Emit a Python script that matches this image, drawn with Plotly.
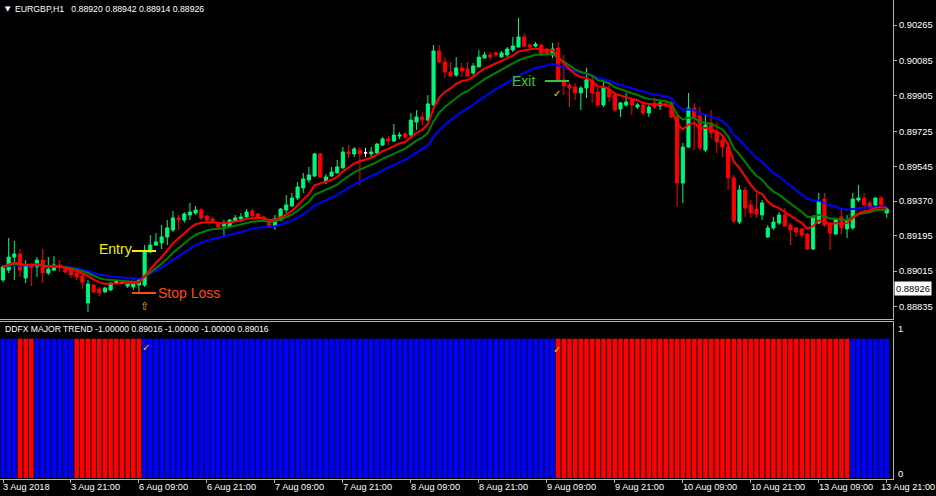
import numpy as np
import pandas as pd
import plotly.graph_objects as go

# ---------------- data (prices in points, 1 point = 0.00001) ----------------
open_pts = [88970, 89020, 89086, 89102, 88980, 89046, 89036, 89071, 89005, 89020,
            89046, 89036, 89020, 89005, 88990, 88853, 88944, 88924, 88909, 88919,
            88959, 88954, 88939, 88934, 88944, 88944, 89112, 89147, 89158, 89188,
            89224, 89285, 89274, 89300, 89310, 89325, 89295, 89280, 89259, 89244,
            89239, 89269, 89280, 89290, 89320, 89305, 89290, 89264, 89244, 89274,
            89325, 89346, 89386, 89437, 89478, 89498, 89610, 89473, 89498, 89513,
            89539, 89620, 89610, 89630, 89615, 89610, 89615, 89655, 89686, 89676,
            89701, 89711, 89706, 89772, 89798, 89782, 89859, 90133, 90077, 90026,
            90011, 90047, 90041, 90021, 90052, 90097, 90113, 90123, 90102, 90113,
            90138, 90153, 90204, 90163, 90158, 90163, 90143, 90113, 90148, 89986,
            89960, 89950, 89920, 89945, 89986, 89925, 89859, 89935, 89909, 89838,
            89859, 89884, 89848, 89859, 89818, 89869, 89854, 89864, 89869, 89798,
            89462, 89645, 89843, 89803, 89630, 89767, 89721, 89681, 89645, 89488,
            89264, 89427, 89351, 89330, 89300, 89188, 89234, 89259, 89300, 89249,
            89234, 89229, 89203, 89127, 89259, 89381, 89259, 89203, 89290, 89229,
            89234, 89376, 89386, 89361, 89351, 89386, 89310]
high_pts = [89046, 89183, 89168, 89127, 89071, 89056, 89086, 89127, 89086, 89091,
            89071, 89041, 89031, 89010, 89000, 88970, 88949, 88934, 88934, 88959,
            88964, 88959, 88954, 88954, 88980, 89147, 89198, 89208, 89249, 89274,
            89320, 89300, 89315, 89361, 89346, 89335, 89300, 89290, 89264, 89274,
            89280, 89300, 89310, 89330, 89330, 89310, 89295, 89274, 89300, 89335,
            89401, 89412, 89467, 89513, 89544, 89615, 89615, 89508, 89544, 89579,
            89645, 89655, 89645, 89645, 89640, 89645, 89666, 89696, 89701, 89762,
            89721, 89721, 89818, 89833, 89823, 89909, 90163, 90163, 90102, 90077,
            90102, 90072, 90077, 90072, 90138, 90128, 90128, 90128, 90133, 90153,
            90204, 90301, 90224, 90174, 90179, 90168, 90148, 90174, 90179, 90113,
            89970, 89970, 89955, 90047, 90011, 89945, 89975, 89975, 89925, 89874,
            89920, 89894, 89869, 89874, 89859, 89894, 89884, 89879, 89879, 89808,
            89666, 89920, 89869, 89848, 89808, 89833, 89772, 89706, 89671, 89503,
            89452, 89442, 89376, 89412, 89376, 89249, 89290, 89315, 89335, 89259,
            89239, 89234, 89208, 89300, 89412, 89412, 89264, 89285, 89330, 89300,
            89412, 89452, 89412, 89371, 89391, 89396, 89340]
low_pts = [88959, 89005, 88970, 88985, 88954, 88939, 88985, 88954, 88995, 89015,
           89010, 89005, 88980, 88970, 88924, 88807, 88904, 88888, 88904, 88914,
           88954, 88949, 88929, 88919, 88904, 88934, 89107, 89142, 89127, 89147,
           89213, 89224, 89259, 89274, 89300, 89274, 89264, 89259, 89234, 89193,
           89234, 89264, 89264, 89285, 89290, 89285, 89269, 89239, 89224, 89269,
           89310, 89340, 89376, 89412, 89462, 89493, 89488, 89457, 89493, 89513,
           89534, 89589, 89594, 89452, 89594, 89594, 89610, 89650, 89655, 89671,
           89686, 89686, 89696, 89732, 89757, 89777, 89854, 90072, 89996, 90001,
           90001, 90001, 90001, 90011, 90052, 90097, 90087, 90102, 90102, 90102,
           90128, 90153, 90153, 90148, 90153, 90108, 90108, 90097, 89981, 89909,
           89848, 89884, 89833, 89894, 89869, 89848, 89848, 89874, 89823, 89798,
           89848, 89808, 89838, 89808, 89798, 89838, 89833, 89843, 89793, 89340,
           89361, 89640, 89630, 89630, 89620, 89691, 89615, 89594, 89427, 89259,
           89254, 89290, 89285, 89285, 89274, 89183, 89224, 89249, 89239, 89147,
           89188, 89183, 89122, 89122, 89254, 89239, 89122, 89198, 89203, 89183,
           89224, 89366, 89340, 89325, 89340, 89340, 89285]
close_pts = [89036, 89086, 89102, 89020, 89046, 89031, 89071, 89005, 89025, 89046,
             89036, 89010, 88995, 88985, 88959, 88949, 88909, 88904, 88929, 88954,
             88959, 88954, 88949, 88949, 88970, 89112, 89147, 89163, 89188, 89234,
             89285, 89274, 89305, 89315, 89325, 89285, 89274, 89269, 89239, 89254,
             89274, 89285, 89290, 89315, 89295, 89290, 89274, 89244, 89280, 89330,
             89351, 89386, 89442, 89483, 89503, 89610, 89493, 89493, 89518, 89544,
             89620, 89610, 89635, 89610, 89615, 89620, 89660, 89686, 89676, 89706,
             89706, 89696, 89782, 89798, 89782, 89864, 90133, 90077, 90026, 90006,
             90047, 90031, 90006, 90057, 90102, 90113, 90102, 90113, 90123, 90143,
             90158, 90204, 90158, 90153, 90168, 90113, 90118, 90143, 89986, 89955,
             89945, 89920, 89945, 89986, 89920, 89859, 89945, 89899, 89833, 89869,
             89874, 89859, 89859, 89818, 89848, 89848, 89869, 89854, 89798, 89462,
             89645, 89843, 89798, 89640, 89757, 89716, 89671, 89645, 89488, 89269,
             89427, 89335, 89310, 89305, 89361, 89234, 89264, 89300, 89244, 89224,
             89213, 89198, 89127, 89290, 89371, 89249, 89208, 89280, 89234, 89274,
             89381, 89386, 89351, 89335, 89386, 89351, 89330]

# DDFX MAJOR TREND: runs of (direction, number of bars); 1 = up (blue), -1 = down (red)
trend_runs = [(1, 3), (-1, 3), (1, 7), (-1, 12), (1, 73), (-1, 52), (1, 7)]
trend_level = 0.9

# moving average periods (red, green, blue)
ma_periods = [8, 13, 21]

# price axis ticks
price_ticks = [0.90265, 0.90085, 0.89905, 0.89725, 0.89545, 0.89370, 0.89195, 0.89015, 0.88835]
# time axis labels (bar index, label)
time_label_bars = [0, 12, 24, 36, 48, 60, 72, 84, 96, 108, 120, 132, 144, 156]
time_labels = ["3 Aug 2018", "3 Aug 21:00", "6 Aug 09:00", "6 Aug 21:00", "7 Aug 09:00",
               "7 Aug 21:00", "8 Aug 09:00", "8 Aug 21:00", "9 Aug 09:00", "9 Aug 21:00",
               "10 Aug 09:00", "10 Aug 21:00", "13 Aug 09:00", "13 Aug 21:00"]
header_text = "EURGBP,H1\u00a0\u00a0 0.88920 0.88942 0.88914 0.88926"
indicator_text = "DDFX MAJOR TREND -1.00000 0.89016 -1.00000 -1.00000 0.89016"
current_price = "0.88926"
current_price_value = 0.88926

# ---------------- build ----------------
W, H = 936, 496
o = np.array(open_pts) / 1e5
h = np.array(high_pts) / 1e5
l = np.array(low_pts) / 1e5
c = np.array(close_pts) / 1e5
idx = np.arange(len(c))

BULL = "#00f57a"
BEAR = "#ff0000"
FRAME = "#b4b4b4"
FONT = "Liberation Sans, Arial, sans-serif"


def px(xp):
    return xp / W


def py(yp):
    return 1 - yp / H


fig = go.Figure()

normal = c != o
doji = c == o
fig.add_trace(go.Candlestick(
    x=idx[normal], open=o[normal], high=h[normal], low=l[normal], close=c[normal],
    increasing=dict(line=dict(color=BULL, width=1), fillcolor=BULL),
    decreasing=dict(line=dict(color=BEAR, width=1), fillcolor=BEAR),
    whiskerwidth=0, xaxis="x2", yaxis="y", showlegend=False, hoverinfo="skip"))
fig.add_trace(go.Candlestick(
    x=idx[doji], open=o[doji], high=h[doji], low=l[doji], close=c[doji],
    increasing=dict(line=dict(color="#ffffff", width=1), fillcolor="#ffffff"),
    decreasing=dict(line=dict(color="#ffffff", width=1), fillcolor="#ffffff"),
    whiskerwidth=0, xaxis="x2", yaxis="y", showlegend=False, hoverinfo="skip"))

closes = pd.Series(c)
for period, col in zip(ma_periods[::-1], ["#0000ff", "#008000", "#ff0000"]):
    ma = closes.ewm(span=period, adjust=False).mean()
    fig.add_trace(go.Scatter(x=idx, y=ma, mode="lines", line=dict(color=col, width=2),
                             xaxis="x2", yaxis="y", showlegend=False, hoverinfo="skip"))

trend = []
for d, n in trend_runs:
    trend += [d] * n
trend = np.array(trend)
fig.add_trace(go.Bar(x=idx, y=np.full(len(trend), trend_level),
                     marker=dict(color=np.where(trend > 0, "#0000ff", "#ff0000"), line=dict(width=0)),
                     xaxis="x", yaxis="y2", showlegend=False, hoverinfo="skip"))

x_left, x_right = -3 / 5.665, 890 / 5.665
y_top = 0.90392
y_bot = 0.90392 - 0.0000508 * 319

ann = []
for k, (b, t) in enumerate(zip(time_label_bars, time_labels)):
    if k == len(time_labels) - 1:
        ann.append(dict(x=1.0, xref="paper", y=py(487), yref="paper", text=t, showarrow=False,
                        xanchor="right", yanchor="middle", xshift=1,
                        font=dict(family=FONT, size=9.2, color="#ffffff")))
    else:
        ann.append(dict(x=b, xref="x", y=py(487), yref="paper", text=t, showarrow=False,
                        xanchor="left", yanchor="middle", xshift=-2,
                        font=dict(family=FONT, size=9.2, color="#ffffff")))
ann += [
    dict(x=px(3), y=py(9), xref="paper", yref="paper", text="▼", showarrow=False,
         xanchor="left", yanchor="middle", font=dict(family="DejaVu Sans", size=7, color="#ffffff")),
    dict(x=px(13), y=py(9), xref="paper", yref="paper", text=header_text, showarrow=False,
         xanchor="left", yanchor="middle", font=dict(family=FONT, size=8.7, color="#ffffff")),
    dict(x=px(3), y=py(329), xref="paper", yref="paper", text=indicator_text, showarrow=False,
         xanchor="left", yanchor="middle", font=dict(family=FONT, size=8.6, color="#ffffff")),
    dict(x=px(896), y=py(328), xref="paper", yref="paper", text="1", showarrow=False,
         xanchor="left", yanchor="middle", font=dict(family=FONT, size=9.4, color="#ffffff")),
    dict(x=px(896), y=py(473), xref="paper", yref="paper", text="0", showarrow=False,
         xanchor="left", yanchor="middle", font=dict(family=FONT, size=9.4, color="#ffffff")),
    dict(x=px(894), y=current_price_value, xref="paper", yref="y", text=current_price, showarrow=False,
         xanchor="left", yanchor="middle", bgcolor="#ffffff", borderpad=1,
         font=dict(family=FONT, size=9.4, color="#000000")),
    dict(x=px(97), y=py(249), xref="paper", yref="paper", text="Entry", showarrow=False,
         xanchor="left", yanchor="middle", font=dict(family=FONT, size=14, color="#f0f000")),
    dict(x=px(156), y=py(293), xref="paper", yref="paper", text="Stop Loss", showarrow=False,
         xanchor="left", yanchor="middle", font=dict(family=FONT, size=14, color="#ff4a10")),
    dict(x=px(510), y=py(81), xref="paper", yref="paper", text="Exit", showarrow=False,
         xanchor="left", yanchor="middle", font=dict(family=FONT, size=14, color="#33c833")),
    dict(x=px(144), y=py(306), xref="paper", yref="paper", text="⇧", showarrow=False,
         xanchor="center", yanchor="middle", font=dict(family="DejaVu Sans", size=11, color="#e8b400")),
    dict(x=px(557), y=py(93), xref="paper", yref="paper", text="✓", showarrow=False,
         xanchor="center", yanchor="middle", font=dict(family="DejaVu Sans", size=10, color="#f0d000")),
    dict(x=px(146), y=py(347), xref="paper", yref="paper", text="✓", showarrow=False,
         xanchor="center", yanchor="middle", font=dict(family="DejaVu Sans", size=10, color="#f0d000")),
    dict(x=px(557), y=py(349), xref="paper", yref="paper", text="✓", showarrow=False,
         xanchor="center", yanchor="middle", font=dict(family="DejaVu Sans", size=10, color="#f0d000")),
]

shapes = [
    dict(type="line", xref="paper", yref="paper", x0=px(132), x1=px(156), y0=py(251), y1=py(251),
         line=dict(color="#f0f000", width=2)),
    dict(type="line", xref="paper", yref="paper", x0=px(132), x1=px(156), y0=py(293), y1=py(293),
         line=dict(color="#ff4a10", width=2)),
    dict(type="line", xref="paper", yref="paper", x0=px(545), x1=px(569), y0=py(81), y1=py(81),
         line=dict(color="#33c833", width=2)),
]

fig.update_layout(
    width=W, height=H, margin=dict(l=0, r=0, t=0, b=0),
    paper_bgcolor="#000000", plot_bgcolor="#000000",
    boxgap=0.45, boxgroupgap=0, bargap=0.18, hovermode=False,
    xaxis=dict(domain=[0, px(893)], range=[x_left, x_right], anchor="y2",
               showgrid=False, zeroline=False, showline=True, mirror=True, linecolor=FRAME,
               ticks="outside", ticklen=3, tickcolor=FRAME, tickvals=time_label_bars,
               showticklabels=False, rangeslider=dict(visible=False), fixedrange=True),
    xaxis2=dict(domain=[0, px(893)], range=[x_left, x_right], anchor="y", matches="x",
                showgrid=False, zeroline=False, showline=True, mirror=True, linecolor=FRAME,
                ticks="", showticklabels=False, rangeslider=dict(visible=False), fixedrange=True),
    yaxis=dict(domain=[py(319), 1], range=[y_bot, y_top], anchor="x2", side="right",
               showgrid=False, zeroline=False, showline=True, mirror=True, linecolor=FRAME,
               ticks="outside", ticklen=3, tickcolor=FRAME, tickvals=price_ticks,
               ticktext=[f"{v:.5f}" for v in price_ticks],
               tickfont=dict(family=FONT, size=9.4, color="#ffffff"), fixedrange=True),
    yaxis2=dict(domain=[py(479), py(321.5)], range=[-0.0065, 1.011], anchor="x",
                showgrid=False, zeroline=False, showline=True, mirror=True, linecolor=FRAME,
                showticklabels=False, ticks="", fixedrange=True),
    annotations=ann, shapes=shapes,
)

fig.write_html("out.html", config={"displayModeBar": False, "staticPlot": True})

# remove the browser's default page margin so the figure sits at the window's corner
with open("out.html", "r", encoding="utf-8") as f:
    page = f.read()
page = page.replace("<head>", "<head><style>html,body{margin:0;padding:0;background:#000;overflow:hidden;}</style>", 1)
with open("out.html", "w", encoding="utf-8") as f:
    f.write(page)
